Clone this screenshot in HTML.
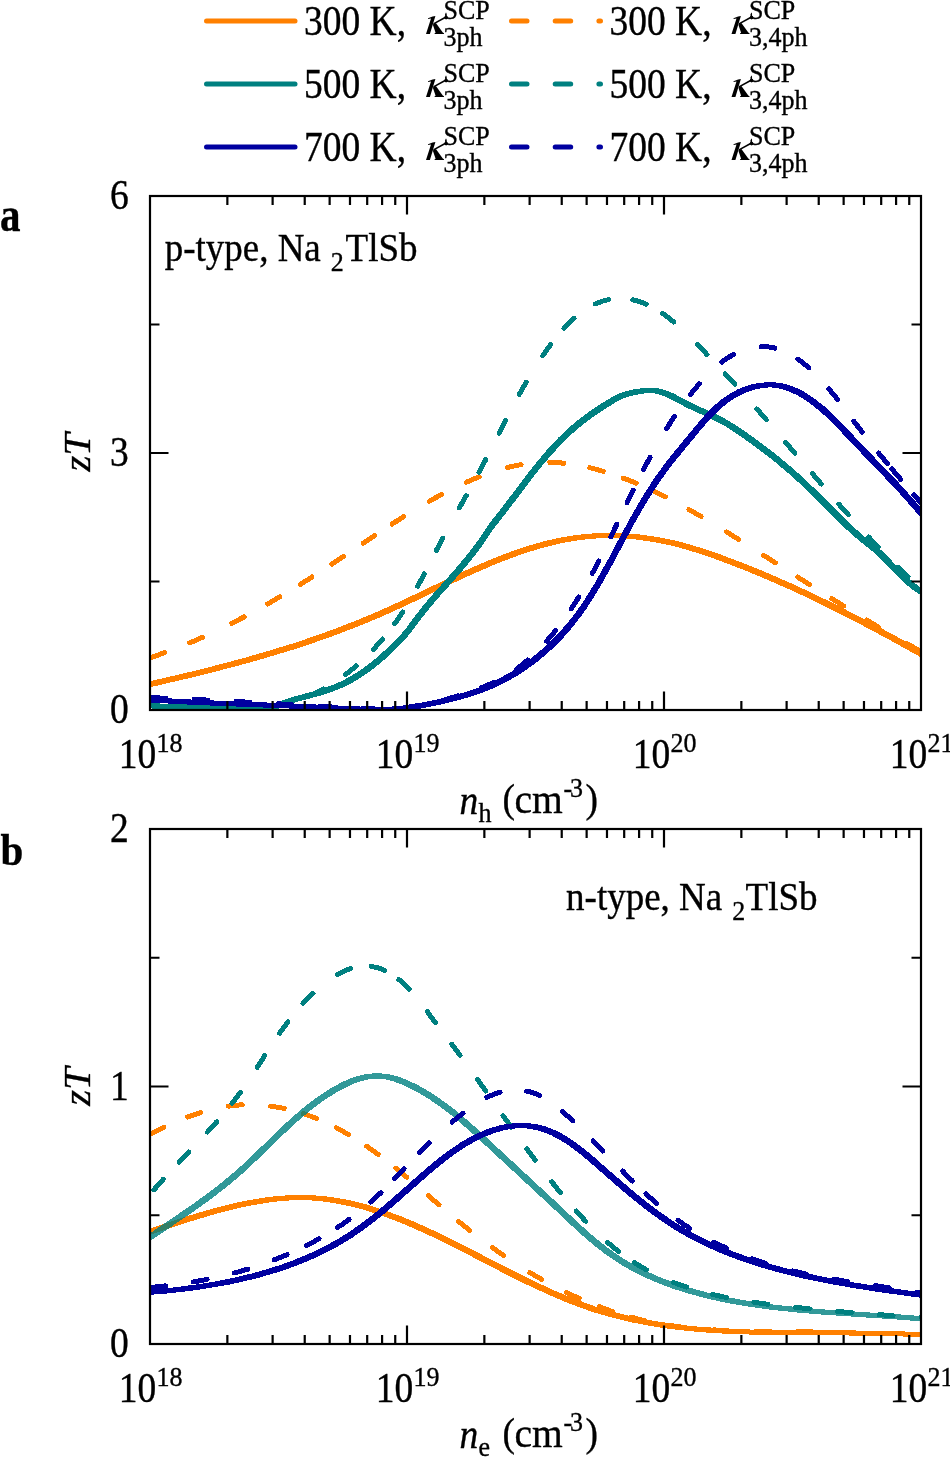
<!DOCTYPE html><html><head><meta charset="utf-8"><style>html,body{margin:0;padding:0;background:#fff;width:950px;height:1458px;overflow:hidden}text{stroke:#000;stroke-width:0.35px}</style></head><body><svg width="950" height="1458" viewBox="0 0 950 1458" font-family='"Liberation Serif", serif' style="position:absolute;left:0;top:0;will-change:transform">
<rect width="950" height="1458" fill="#fff"/>
<defs><g id="kap" fill="#000"><path d="M426.0 33.9L429.9 33.9L435.4 16.1L432.6 16.6L428.0 18.2L428.1 18.9L431.0 18.6Z"/><path d="M432.8 24.6L435.9 22.9L442.8 32.6L444.0 33.3L444.0 33.9L434.6 33.9L434.6 33.3L435.6 32.8Z"/><path d="M433.5 23.9L445.6 17.3" stroke="#000" stroke-width="1.6" fill="none"/><circle cx="446.1" cy="17.6" r="1.8"/><path d="M446.1 17.6L446.0 12.8" stroke="#000" stroke-width="0.9" fill="none"/></g></defs>
<path d="M206.5 21H295" stroke="#ff8000" stroke-width="5" stroke-linecap="round"/>
<path d="M511.5 21H600.5" stroke="#ff8000" stroke-width="5" stroke-linecap="round" stroke-dasharray="15.5 28.2"/>
<text transform="translate(304.00,34.80) scale(1,1.11)" font-size="37.5" text-anchor="start">300 K,</text>
<use href="#kap" transform="translate(0.00,0)"/>
<text transform="translate(443.50,18.80) scale(1,1.08)" font-size="26" text-anchor="start">SCP</text>
<text transform="translate(443.60,45.80) scale(1,1.08)" font-size="26" text-anchor="start">3ph</text>
<text transform="translate(609.50,34.80) scale(1,1.11)" font-size="37.5" text-anchor="start">300 K,</text>
<use href="#kap" transform="translate(305.50,0)"/>
<text transform="translate(749.00,18.80) scale(1,1.08)" font-size="26" text-anchor="start">SCP</text>
<text transform="translate(749.10,45.80) scale(1,1.08)" font-size="26" text-anchor="start">3,4ph</text>
<path d="M206.5 84H295" stroke="#008080" stroke-width="5" stroke-linecap="round"/>
<path d="M511.5 84H600.5" stroke="#008080" stroke-width="5" stroke-linecap="round" stroke-dasharray="15.5 28.2"/>
<text transform="translate(304.00,97.80) scale(1,1.11)" font-size="37.5" text-anchor="start">500 K,</text>
<use href="#kap" transform="translate(0.00,63)"/>
<text transform="translate(443.50,81.80) scale(1,1.08)" font-size="26" text-anchor="start">SCP</text>
<text transform="translate(443.60,108.80) scale(1,1.08)" font-size="26" text-anchor="start">3ph</text>
<text transform="translate(609.50,97.80) scale(1,1.11)" font-size="37.5" text-anchor="start">500 K,</text>
<use href="#kap" transform="translate(305.50,63)"/>
<text transform="translate(749.00,81.80) scale(1,1.08)" font-size="26" text-anchor="start">SCP</text>
<text transform="translate(749.10,108.80) scale(1,1.08)" font-size="26" text-anchor="start">3,4ph</text>
<path d="M206.5 147H295" stroke="#0000a0" stroke-width="5" stroke-linecap="round"/>
<path d="M511.5 147H600.5" stroke="#0000a0" stroke-width="5" stroke-linecap="round" stroke-dasharray="15.5 28.2"/>
<text transform="translate(304.00,160.80) scale(1,1.11)" font-size="37.5" text-anchor="start">700 K,</text>
<use href="#kap" transform="translate(0.00,126)"/>
<text transform="translate(443.50,144.80) scale(1,1.08)" font-size="26" text-anchor="start">SCP</text>
<text transform="translate(443.60,171.80) scale(1,1.08)" font-size="26" text-anchor="start">3ph</text>
<text transform="translate(609.50,160.80) scale(1,1.11)" font-size="37.5" text-anchor="start">700 K,</text>
<use href="#kap" transform="translate(305.50,126)"/>
<text transform="translate(749.00,144.80) scale(1,1.08)" font-size="26" text-anchor="start">SCP</text>
<text transform="translate(749.10,171.80) scale(1,1.08)" font-size="26" text-anchor="start">3,4ph</text>
<clipPath id="ca"><rect x="150.0" y="196.0" width="771.0" height="514.0"/></clipPath>
<clipPath id="cb"><rect x="150.0" y="829.0" width="771.0" height="515.0"/></clipPath>
<g clip-path="url(#ca)">
<path d="M147.8 682.3L193.8 671.5L209.8 667.5L241.8 659.1L265.8 652.2L290.8 644.6L301.8 641L319.8 634.8L332.8 630.1L355.8 621.2L372.8 614.2L388.8 607.1L403.8 600.2L451.8 577.3L466.8 570.4L489.8 560.4L497.8 557.2L512.8 551.5L522.8 548.1L535.8 544.1L545.8 541.4L556.8 538.9L564.8 537.3L572.8 536L585.8 534.4L594.8 533.8L611.8 533.4L625.8 533.8L636.8 534.6L641.8 535.2L658.8 537.7L673.8 540.8L682.8 543L698.8 547.7L709.8 551.2L721.8 555.5L747.8 565.4L765.8 572.8L792.8 584.6L815.8 595.3L835.8 605.1L862.8 618.9L895.8 636.6L923.9 652.2L923.9 656.2L919.8 656.2L891.8 640.6L858.8 622.9L830.8 608.6L804.8 596L788.8 588.6L761.8 576.8L743.8 569.4L717.8 559.5L705.8 555.2L694.8 551.7L678.8 547L669.8 544.8L654.8 541.7L637.8 539.2L632.8 538.6L621.8 537.8L609.8 537.5L598.8 537.8L589.8 538.4L576.8 540L568.8 541.3L560.8 542.9L549.8 545.4L539.8 548.1L526.8 552.1L516.8 555.5L501.8 561.2L493.8 564.4L470.8 574.4L455.8 581.3L407.8 604.2L392.8 611.1L376.8 618.2L359.8 625.2L336.8 634.1L323.8 638.8L305.8 645L294.8 648.6L269.8 656.2L245.8 663.1L218.8 670.2L186.8 678.2L156.8 685.2L151.8 686.3L147.8 686.3Z" fill="#ff8000" stroke="#ff8000" stroke-width="1" stroke-linejoin="round" shape-rendering="crispEdges"/>
<path d="M149.9 657.8L152.7 656.9L155.4 655.9L158.2 655.0L160.9 654.0L163.7 653.0L166.4 652.1L169.1 651.0L171.9 650.0L174.6 649.0L177.3 647.9L180.0 646.8L182.7 645.8L185.4 644.7L188.1 643.6L190.7 642.4L193.4 641.3L196.1 640.1L198.8 639.0L201.4 637.8L204.1 636.6L206.7 635.4L209.4 634.2L212.0 633.0L214.6 631.7L217.3 630.5L219.9 629.2L222.5 627.9L225.1 626.7L227.7 625.4L230.3 624.1L232.9 622.7L235.5 621.4L238.1 620.1L240.6 618.7L243.2 617.4L245.8 616.0L248.4 614.6L250.9 613.2L253.5 611.8L256.0 610.4L258.6 609.0L261.1 607.6L263.6 606.2L266.2 604.7L268.7 603.3L271.2 601.8L273.7 600.4L276.2 598.9L278.8 597.4L281.3 595.9L283.8 594.5L286.2 593.0L288.7 591.5L291.2 589.9L293.7 588.4L296.2 586.9L298.7 585.4L301.1 583.8L303.6 582.3L306.1 580.8L308.5 579.2L311.0 577.6L313.4 576.1L315.9 574.5L318.3 572.9L320.7 571.4L323.2 569.8L325.6 568.2L328.0 566.6L330.4 565.0L332.9 563.4L335.3 561.9L337.7 560.3L340.1 558.7L342.5 557.1L344.9 555.4L347.3 553.8L349.7 552.2L352.1 550.6L354.5 549.0L356.9 547.4L359.3 545.8L361.7 544.2L364.1 542.6L366.5 541.0L368.9 539.4L371.3 537.8L373.7 536.2L376.1 534.6L378.5 533.0L380.9 531.4L383.3 529.8L385.7 528.2L388.1 526.6L390.6 525.0L393.0 523.5L395.4 521.9L397.9 520.3L400.3 518.8L402.8 517.2L405.2 515.7L407.7 514.2L410.2 512.6L412.7 511.1L415.2 509.6L417.7 508.1L420.2 506.6L422.7 505.1L425.2 503.6L427.8 502.2L430.3 500.7L432.9 499.3L435.5 497.8L438.0 496.4L440.6 495.0L443.3 493.6L445.9 492.2L448.5 490.9L451.1 489.5L453.8 488.2L456.5 486.9L459.1 485.6L461.8 484.3L464.5 483.1L467.2 481.9L469.9 480.7L472.6 479.5L475.3 478.4L478.1 477.3L480.8 476.2L483.6 475.1L486.3 474.1L489.1 473.1L491.9 472.2L494.6 471.3L497.4 470.4L500.2 469.6L503.0 468.8L505.8 468.0L508.6 467.3L511.4 466.6L514.2 466.0L517.0 465.4L519.8 464.9L522.7 464.4L525.5 464.0L528.3 463.6L531.2 463.3L534.0 463.0L536.8 462.7L539.7 462.6L542.5 462.4L545.4 462.4L548.2 462.4L551.1 462.4L553.9 462.5L556.8 462.7L559.6 462.8L562.5 463.1L565.3 463.4L568.2 463.7L571.0 464.1L573.9 464.5L576.7 465.0L579.5 465.5L582.4 466.1L585.2 466.7L588.0 467.3L590.8 468.0L593.7 468.7L596.5 469.4L599.3 470.2L602.1 471.0L604.9 471.8L607.7 472.7L610.4 473.6L613.2 474.5L616.0 475.4L618.7 476.4L621.5 477.4L624.2 478.5L626.9 479.5L629.7 480.6L632.4 481.7L635.1 482.8L637.8 483.9L640.4 485.1L643.1 486.2L645.8 487.4L648.4 488.6L651.1 489.9L653.7 491.1L656.3 492.4L659.0 493.6L661.6 494.9L664.2 496.2L666.8 497.5L669.4 498.9L671.9 500.2L674.5 501.6L677.1 503.0L679.7 504.3L682.2 505.7L684.8 507.2L687.3 508.6L689.8 510.0L692.4 511.5L694.9 512.9L697.4 514.4L699.9 515.8L702.5 517.3L705.0 518.8L707.5 520.3L710.0 521.8L712.5 523.3L715.0 524.8L717.5 526.3L719.9 527.9L722.4 529.4L724.9 530.9L727.4 532.5L729.9 534.0L732.3 535.6L734.8 537.1L737.3 538.6L739.7 540.2L742.2 541.7L744.7 543.3L747.1 544.9L749.6 546.4L752.0 548.0L754.5 549.5L757.0 551.1L759.4 552.6L761.9 554.2L764.3 555.8L766.8 557.3L769.2 558.9L771.7 560.4L774.1 562.0L776.6 563.6L779.0 565.1L781.5 566.7L783.9 568.2L786.4 569.8L788.8 571.4L791.3 572.9L793.7 574.5L796.2 576.0L798.6 577.6L801.0 579.2L803.5 580.7L805.9 582.3L808.4 583.8L810.8 585.4L813.3 586.9L815.7 588.5L818.2 590.0L820.7 591.6L823.1 593.1L825.6 594.6L828.0 596.2L830.5 597.7L832.9 599.3L835.4 600.8L837.8 602.3L840.3 603.9L842.8 605.4L845.2 606.9L847.7 608.4L850.2 610.0L852.6 611.5L855.1 613.0L857.6 614.5L860.1 616.0L862.5 617.5L865.0 619.0L867.5 620.5L870.0 622.0L872.5 623.5L875.0 625.0L877.5 626.5L880.0 628.0L882.5 629.4L885.0 630.9L887.5 632.4L890.0 633.9L892.5 635.3L895.0 636.8L897.5 638.2L900.0 639.7L902.6 641.1L905.1 642.6L907.6 644.0L910.2 645.4L912.7 646.8L915.2 648.3L917.8 649.7L920.3 651.1L921.6 651.8" stroke="#ff8000" stroke-width="5" fill="none" stroke-linecap="round" stroke-linejoin="round" shape-rendering="crispEdges" stroke-dasharray="14.0 26.7 14.0 32.5 14.0 26.7 14.0 23.9 14.0 23.7 14.0 23.6 14.0 20.7 14.0 29.8 14.0 27.4 14.0 29.8 14.0 28.9 14.0 26.3 14.0 21.1 14.0 18.1 14.0 26.8 14.0 29.8 14.0 29.6 14.0 26.6 14.0 26.5 14.0 26.7 14.0 32.5 14.0 100000.0" stroke-dashoffset="-1.8"/>
<path d="M148 703.5L152 703.5L165 704.3L181 704.8L233 705.3L246 705.7L260 706.4L265 706.2L268 705.8L271 705.2L275 703.9L290 698.2L317 690.9L330 686.5L337 683.7L342 681.4L348 678.3L357 672.9L364 668.2L370 663.7L379 656.3L391 645.3L401 634.9L407 627.7L417 614.3L425 604.1L433 594.7L448 577.9L459 565.3L469 553.1L479 539.8L486 529.2L490 523.5L502 508.2L531 470L537 462.5L546 451.8L559 437.7L568 429.2L573 424.8L579 419.9L591 411L603 403.1L613 397L619 394.1L626 391.7L631 390.5L635 389.7L642 388.8L647 388.5L655 388.5L658 388.8L661 389.3L668 391.5L674 394.2L688 401.7L694 404.7L712 412.8L718 415.7L726 419.8L734 424.6L745 432L758 441.3L771 451.1L779 457.4L794 470.1L803 478.2L813 487.7L848 522.6L860 533.4L865 537.6L875 545.4L882 551.5L889 558.5L898 568.1L908 578L912 581.5L917 585.4L920 587.5L924 590L924 594L920 594L916 591.5L913 589.4L906 583.8L903 581.1L894 572.1L885 562.5L878 555.5L871 549.4L861 541.6L856 537.4L844 526.6L809 491.7L799 482.2L790 474.1L775 461.4L767 455.1L754 445.3L742 436.7L730 428.6L722 423.8L714 419.7L708 416.8L690 408.7L684 405.7L670 398.2L664 395.5L657 393.3L654 392.8L651 392.5L646 392.8L639 393.7L635 394.5L630 395.7L623 398.1L617 401L607 407.1L595 415L583 423.9L577 428.8L572 433.2L563 441.7L550 455.8L541 466.5L535 474L506 512.2L494 527.5L490 533.2L483 543.8L473 557.1L463 569.3L452 581.9L437 598.7L429 608.1L421 618.3L411 631.7L405 638.9L395 649.3L383 660.3L374 667.7L368 672.2L360 677.5L352 682.3L346 685.4L341 687.7L334 690.5L321 694.9L294 702.2L279 707.9L275 709.2L272 709.8L266 710.4L258 710.5L242 709.7L229 709.3L177 708.8L161 708.3L148 707.5Z" fill="#008080" stroke="#008080" stroke-width="1" stroke-linejoin="round" shape-rendering="crispEdges"/>
<path d="M150.1 706.9L153.6 706.9L157.2 706.9L160.8 707.0L164.5 707.0L168.1 707.1L171.8 707.2L175.4 707.4L179.1 707.5L182.8 707.7L186.5 707.8L190.2 708.0L194.0 708.1L197.7 708.3L201.4 708.5L205.2 708.6L208.9 708.7L212.7 708.8L216.4 708.9L220.2 709.0L223.9 709.0L227.7 709.1L231.4 709.1L235.2 709.0L238.9 708.9L242.6 708.8L246.3 708.7L250.0 708.5L253.7 708.2L257.4 707.9L261.1 707.5L264.7 707.1L268.4 706.7L272.0 706.1L275.6 705.5L279.2 704.9L282.7 704.1L286.3 703.3L289.8 702.4L293.3 701.4L296.7 700.4L300.2 699.2L303.6 698.0L307.0 696.7L310.3 695.3L313.6 693.8L316.9 692.2L320.2 690.6L323.4 688.9L326.6 687.1L329.8 685.2L332.9 683.3L336.0 681.3L339.1 679.2L342.1 677.1L345.1 674.9L348.0 672.6L351.0 670.3L353.8 667.9L356.7 665.5L359.5 663.0L362.3 660.5L365.0 657.9L367.7 655.3L370.3 652.6L372.9 649.9L375.5 647.1L378.0 644.3L380.5 641.5L382.9 638.7L385.3 635.8L387.6 632.8L389.9 629.9L392.2 626.9L394.4 623.9L396.6 620.9L398.7 617.8L400.7 614.8L402.7 611.7L404.7 608.6L406.7 605.5L408.6 602.3L410.4 599.2L412.2 596.0L414.1 592.9L415.8 589.7L417.6 586.5L419.3 583.3L421.0 580.1L422.7 576.8L424.4 573.6L426.1 570.4L427.8 567.1L429.4 563.9L431.1 560.6L432.8 557.4L434.5 554.1L436.1 550.8L437.8 547.6L439.5 544.3L441.3 541.0L443.0 537.8L444.7 534.5L446.5 531.2L448.3 528.0L450.1 524.7L451.9 521.4L453.7 518.2L455.5 514.9L457.3 511.6L459.1 508.4L460.9 505.1L462.8 501.8L464.6 498.6L466.4 495.3L468.2 492.0L470.0 488.8L471.8 485.5L473.6 482.3L475.4 479.0L477.2 475.7L478.9 472.5L480.7 469.2L482.4 466.0L484.1 462.7L485.8 459.4L487.5 456.2L489.2 452.9L490.8 449.7L492.5 446.4L494.1 443.2L495.7 439.9L497.4 436.7L499.0 433.5L500.6 430.2L502.3 427.0L503.9 423.7L505.5 420.5L507.2 417.3L508.9 414.0L510.5 410.8L512.2 407.6L513.9 404.4L515.6 401.1L517.3 397.9L519.1 394.7L520.9 391.5L522.7 388.3L524.5 385.1L526.3 381.9L528.2 378.7L530.1 375.5L532.1 372.3L534.0 369.1L536.0 365.9L538.1 362.8L540.2 359.6L542.3 356.4L544.5 353.2L546.7 350.1L549.0 346.9L551.3 343.8L552.5 342.2L554.9 339.2L556.1 337.6L558.5 334.6L561.0 331.6L563.6 328.7L566.2 325.9L568.9 323.2L571.6 320.5L574.4 318.0L577.2 315.6L580.1 313.3L583.0 311.1L586.0 309.1L589.0 307.2L592.1 305.5L595.3 303.9L598.5 302.6L601.7 301.4L605.1 300.4L608.5 299.7L611.9 299.1L615.3 298.8L618.8 298.6L622.3 298.7L625.8 298.9L629.3 299.3L632.8 299.9L636.2 300.7L639.6 301.7L643.0 302.9L646.3 304.3L649.5 305.8L652.8 307.4L656.0 309.2L659.1 311.2L662.2 313.2L665.3 315.4L668.3 317.6L671.3 320.0L674.3 322.4L677.2 325.0L680.1 327.5L682.9 330.2L685.8 332.9L688.5 335.6L691.3 338.3L694.0 341.1L696.8 343.9L699.4 346.6L702.1 349.4L704.7 352.1L707.3 354.9L709.9 357.6L712.5 360.3L715.0 363.0L717.5 365.6L720.1 368.3L722.6 371.0L725.0 373.6L727.5 376.3L730.0 379.0L732.4 381.6L734.9 384.3L737.3 387.0L739.7 389.7L742.2 392.4L744.6 395.1L747.0 397.8L749.4 400.6L751.9 403.3L754.3 406.0L756.7 408.8L759.1 411.5L761.5 414.3L763.9 417.1L766.3 419.8L768.7 422.6L771.1 425.4L773.5 428.2L775.9 431.0L778.3 433.8L780.7 436.6L783.1 439.4L785.5 442.2L787.9 445.0L790.3 447.8L792.7 450.6L795.1 453.4L797.5 456.2L799.9 459.0L802.2 461.8L804.6 464.7L807.1 467.5L809.5 470.3L811.9 473.1L814.3 475.9L816.7 478.7L819.1 481.5L821.5 484.3L823.9 487.1L826.4 489.9L828.8 492.7L831.2 495.5L833.7 498.3L836.1 501.1L838.5 503.9L841.0 506.6L843.5 509.4L845.9 512.2L848.4 514.9L850.9 517.7L853.3 520.4L855.8 523.2L858.3 525.9L860.8 528.6L863.3 531.4L865.8 534.1L868.4 536.8L870.9 539.5L873.4 542.1L876.0 544.8L878.5 547.5L881.1 550.1L883.7 552.8L886.3 555.4L888.8 558.0L891.5 560.6L894.1 563.2L896.7 565.8L899.3 568.4L902.0 571.0L904.6 573.5L907.3 576.1L909.9 578.6L912.6 581.1L915.3 583.6L918.0 586.1L920.8 588.5L922.1 589.8" stroke="#008080" stroke-width="5" fill="none" stroke-linecap="round" stroke-linejoin="round" shape-rendering="crispEdges" stroke-dasharray="14.0 28.0 14.0 28.0 14.0 28.0 14.0 18.6 14.0 26.6 14.0 23.5 14.0 19.7 14.0 29.8 14.0 26.3 14.0 34.5 14.0 26.8 14.0 29.8 14.0 29.8 14.0 31.1 14.0 20.9 14.0 25.7 14.0 24.5 14.0 19.0 14.0 32.5 14.0 26.7 14.0 33.3 14.0 30.2 14.0 26.6 14.0 26.8 14.0 30.3 14.0 28.0 14.0 100000.0" stroke-dashoffset="-3.7"/>
<path d="M148 698L152 698L201 700.5L298 704.2L366 707.3L378 707.5L391 707.1L404 706L417 704L426 702.3L435 700.4L451 696.6L464 693L476 689L483 686.4L489 683.8L500 678.6L512 671.9L520 666.8L530 659.7L538 653.3L547 645.4L557 635.6L568 623.1L574 615.5L581 605.8L585 599.8L595 583.7L609 558.7L623 532.2L631 517.5L641 500L649 487.2L656 476.6L666 462.8L672 455.2L698 423.7L705 415.7L711 409.4L717 403.8L724 398.1L732 392.9L738 389.8L747 386.2L753 384.6L760 383.3L767 382.8L776 383L783 384L788 385.3L791 386.3L797 388.7L800 390.1L806 393.4L814 398.8L824 406.7L831 413L839 420.9L867 450.4L899 483.7L910 495.9L924.1 512L924.1 516L920 516L906 499.9L895 487.7L863 454.4L835 424.9L827 417L820 410.7L810 402.8L802 397.4L796 394.1L790 391.4L784 389.3L778 387.8L773 387.1L770 386.8L764 387.3L757 388.6L752 389.9L748 391.3L739 395.2L733 398.7L728 402.1L720 408.7L716 412.4L711 417.5L702 427.7L676 459.2L670 466.8L664 475L657 485L645 504L634 523.3L608 571.9L599 587.7L594 596L586 608.4L581 615.4L573 625.9L568 631.8L561 639.6L552 648.5L547 653L539 659.8L534 663.7L524 670.8L515 676.5L502 683.6L496 686.5L487 690.4L480 693L468 697L455 700.6L439 704.4L430 706.3L421 708L408 710L395 711.1L382 711.5L362 711.3L294 708.2L197 704.5L148 702Z" fill="#0000a0" stroke="#0000a0" stroke-width="1" stroke-linejoin="round" shape-rendering="crispEdges"/>
<path d="M150.0 697.5L153.4 697.7L156.8 697.8L160.2 698.0L163.6 698.1L167.0 698.2L170.4 698.4L173.8 698.5L177.2 698.7L180.7 698.8L184.1 699.0L187.5 699.1L190.9 699.3L194.3 699.4L197.7 699.6L201.1 699.8L204.5 699.9L207.9 700.1L211.3 700.3L214.7 700.4L218.1 700.6L221.5 700.8L224.9 700.9L228.3 701.1L231.7 701.3L235.1 701.5L238.5 701.6L241.9 701.8L245.3 702.0L248.7 702.2L252.1 702.4L255.5 702.5L258.9 702.7L262.3 702.9L265.7 703.1L269.1 703.3L272.5 703.5L275.9 703.7L279.3 703.9L282.7 704.1L286.1 704.3L289.5 704.5L292.9 704.6L296.4 704.8L299.8 705.0L303.2 705.2L306.6 705.4L310.0 705.6L313.4 705.8L316.8 706.1L320.2 706.3L323.6 706.5L327.0 706.7L330.4 706.9L333.8 707.1L337.2 707.3L340.6 707.5L344.1 707.7L347.5 707.9L350.9 708.1L354.3 708.3L357.7 708.4L361.1 708.6L364.5 708.7L367.9 708.8L371.3 708.9L374.7 709.0L378.1 709.0L381.5 709.0L384.9 708.9L388.2 708.8L391.6 708.6L395.0 708.4L398.4 708.2L401.7 707.9L405.1 707.5L408.4 707.1L411.8 706.6L415.1 706.1L418.4 705.5L421.8 704.9L425.1 704.2L428.4 703.5L431.7 702.7L435.1 702.0L438.4 701.2L441.7 700.3L445.1 699.5L448.4 698.6L451.7 697.7L455.1 696.7L458.4 695.8L461.7 694.7L465.0 693.7L468.3 692.6L471.5 691.5L474.8 690.3L478.0 689.1L481.2 687.9L484.4 686.6L487.5 685.2L490.7 683.8L493.7 682.4L496.8 680.9L499.8 679.3L502.8 677.7L505.7 676.0L508.6 674.2L511.5 672.4L514.2 670.5L517.0 668.6L519.7 666.6L522.4 664.5L525.0 662.4L527.5 660.2L530.1 658.0L532.6 655.7L535.0 653.3L537.4 651.0L539.8 648.5L542.1 646.1L544.4 643.6L546.7 641.1L548.9 638.5L551.1 635.9L553.3 633.3L555.4 630.7L557.5 628.0L559.6 625.3L561.6 622.6L563.6 619.8L565.6 617.1L567.5 614.3L569.4 611.4L571.3 608.6L573.2 605.8L575.1 602.9L576.9 600.0L578.7 597.1L580.5 594.2L582.2 591.2L583.9 588.3L585.7 585.3L587.4 582.3L589.0 579.3L590.7 576.3L592.3 573.3L594.0 570.2L595.6 567.2L597.2 564.2L598.7 561.1L600.3 558.1L601.9 555.0L603.4 551.9L604.9 548.8L606.5 545.8L608.0 542.7L609.5 539.6L611.0 536.5L612.5 533.4L613.9 530.4L615.4 527.3L616.9 524.2L618.4 521.1L619.8 518.1L621.3 515.0L622.8 511.9L624.2 508.9L625.7 505.8L627.1 502.7L628.6 499.7L630.1 496.6L631.5 493.6L633.0 490.6L634.5 487.5L636.0 484.5L637.5 481.5L639.0 478.5L640.5 475.4L642.1 472.4L643.6 469.4L645.1 466.4L646.7 463.5L648.3 460.5L649.9 457.5L651.5 454.6L653.1 451.6L654.8 448.6L656.4 445.7L658.1 442.8L659.8 439.9L661.5 436.9L663.3 434.0L665.0 431.2L666.8 428.3L668.6 425.4L670.5 422.5L672.3 419.7L674.2 416.8L676.1 414.0L678.1 411.2L680.1 408.4L682.1 405.6L684.1 402.8L686.2 400.0L688.3 397.3L690.5 394.5L692.6 391.8L694.9 389.1L697.1 386.4L699.4 383.7L701.7 381.0L704.1 378.4L706.5 375.8L709.0 373.3L711.5 370.9L714.0 368.5L716.7 366.2L719.3 364.0L722.0 361.9L724.8 359.9L727.6 358.0L730.5 356.2L733.5 354.5L736.5 353.0L739.5 351.6L742.6 350.4L745.8 349.3L749.0 348.4L752.2 347.7L755.4 347.1L758.7 346.7L761.9 346.6L765.1 346.6L768.2 346.9L771.4 347.3L774.5 348.0L777.6 348.8L780.6 349.8L783.6 351.0L786.6 352.4L789.5 353.9L792.4 355.5L795.3 357.3L798.1 359.3L800.9 361.3L803.6 363.4L806.3 365.7L809.0 368.0L811.6 370.4L814.2 372.9L816.8 375.5L819.3 378.1L821.7 380.7L824.1 383.4L826.5 386.2L828.8 388.9L831.1 391.6L833.4 394.4L835.6 397.1L837.7 399.8L839.8 402.6L841.9 405.3L844.0 408.0L846.0 410.7L848.1 413.4L850.1 416.1L852.1 418.8L854.1 421.5L856.1 424.1L858.1 426.8L860.2 429.5L862.2 432.2L864.3 434.8L866.3 437.5L868.4 440.1L870.5 442.8L872.6 445.4L874.7 448.0L876.8 450.7L878.9 453.3L881.1 455.9L883.2 458.6L885.4 461.2L887.6 463.8L889.7 466.4L891.9 469.0L894.1 471.6L896.3 474.2L898.5 476.8L900.7 479.4L902.9 482.0L905.2 484.6L907.4 487.2L909.6 489.8L911.9 492.4L914.1 495.0L916.4 497.6L918.6 500.2L920.9 502.7L922.0 504.0" stroke="#0000a0" stroke-width="5" fill="none" stroke-linecap="round" stroke-linejoin="round" shape-rendering="crispEdges" stroke-dasharray="14.0 28.0 14.0 28.0 14.0 28.0 14.0 28.0 14.0 28.0 14.0 28.0 14.0 28.0 14.0 24.0 14.0 26.7 14.0 26.6 14.0 26.8 14.0 27.2 14.0 27.1 14.0 23.5 14.0 23.0 14.0 33.4 14.0 27.4 14.0 31.3 14.0 28.9 14.0 25.6 14.0 29.1 14.0 26.7 14.0 26.5 14.0 6.4 14.0 20.3 12.1 100000.0" stroke-dashoffset="-2.1"/>
</g>
<g clip-path="url(#cb)">
<path d="M148.3 1229.6L191.3 1215.4L209.3 1210.1L230.3 1204.6L240.3 1202.3L251.3 1200.2L267.3 1197.7L275.3 1196.7L286.3 1195.9L294.3 1195.6L306.3 1195.6L314.3 1195.9L322.3 1196.5L332.3 1197.7L348.3 1200.5L360.3 1203.3L367.3 1205.2L373.3 1207L383.3 1210.3L403.3 1217.7L416.3 1223.2L438.3 1233.2L469.3 1248.7L506.3 1267.9L529.3 1279.4L554.3 1291L573.3 1299L586.3 1303.8L595.3 1307L603.3 1309.5L618.3 1313.7L636.3 1318L658.3 1322.1L671.3 1324L684.3 1325.7L701.3 1327.4L727.3 1329.1L745.3 1329.9L767.3 1330.4L850.3 1330.9L924 1332.4L924 1336.4L838.3 1334.8L763.3 1334.4L731.3 1333.5L712.3 1332.5L699.3 1331.5L680.3 1329.7L667.3 1328L654.3 1326.1L632.3 1322L614.3 1317.7L599.3 1313.5L591.3 1311L582.3 1307.8L569.3 1303L550.3 1295L525.3 1283.4L502.3 1271.9L465.3 1252.7L434.3 1237.2L412.3 1227.2L399.3 1221.7L379.3 1214.3L369.3 1211L363.3 1209.2L356.3 1207.3L344.3 1204.5L328.3 1201.7L318.3 1200.5L310.3 1199.9L298.3 1199.6L290.3 1199.9L279.3 1200.7L271.3 1201.7L255.3 1204.2L244.3 1206.3L234.3 1208.6L218.3 1212.7L195.3 1219.4L152.3 1233.6L148.3 1233.6Z" fill="#ff8000" stroke="#ff8000" stroke-width="1" stroke-linejoin="round" shape-rendering="crispEdges"/>
<path d="M150.2 1134.0L152.7 1132.8L155.1 1131.5L157.6 1130.3L160.1 1129.0L162.7 1127.8L165.2 1126.6L167.8 1125.4L170.3 1124.2L172.9 1123.1L175.5 1121.9L178.1 1120.8L180.8 1119.7L183.4 1118.7L186.0 1117.6L188.7 1116.6L191.4 1115.7L194.1 1114.7L196.8 1113.8L199.5 1112.9L202.2 1112.1L204.9 1111.3L207.6 1110.5L210.4 1109.8L213.1 1109.1L215.9 1108.4L218.7 1107.9L221.4 1107.3L224.2 1106.8L227.0 1106.4L229.8 1106.0L232.6 1105.6L235.3 1105.3L238.1 1105.1L240.9 1104.9L243.8 1104.8L246.6 1104.7L249.4 1104.7L252.2 1104.7L255.0 1104.8L257.8 1104.9L260.6 1105.1L263.4 1105.3L266.2 1105.6L269.0 1105.9L271.7 1106.3L274.5 1106.7L277.3 1107.2L280.1 1107.7L282.8 1108.2L285.6 1108.8L288.3 1109.5L291.0 1110.1L293.7 1110.9L296.4 1111.6L299.1 1112.4L301.8 1113.2L304.4 1114.1L307.1 1115.0L309.7 1115.9L312.3 1116.9L314.9 1117.9L317.4 1118.9L320.0 1120.0L322.5 1121.1L325.0 1122.2L327.5 1123.4L330.0 1124.6L332.5 1125.8L334.9 1127.0L337.4 1128.3L339.8 1129.6L342.2 1131.0L344.6 1132.3L347.0 1133.7L349.4 1135.1L351.7 1136.5L354.1 1138.0L356.4 1139.4L358.7 1140.9L361.1 1142.4L363.4 1144.0L365.6 1145.5L367.9 1147.1L370.2 1148.7L372.5 1150.3L374.7 1151.9L377.0 1153.6L379.2 1155.2L381.4 1156.9L383.7 1158.6L385.9 1160.3L388.1 1162.0L390.3 1163.8L392.5 1165.5L394.7 1167.3L396.9 1169.0L399.0 1170.8L401.2 1172.6L403.4 1174.4L405.6 1176.2L407.7 1178.0L409.9 1179.8L412.0 1181.7L414.2 1183.5L416.4 1185.3L418.5 1187.2L420.7 1189.0L422.8 1190.9L425.0 1192.7L427.1 1194.6L429.3 1196.5L431.4 1198.3L433.6 1200.2L435.7 1202.0L437.9 1203.9L440.1 1205.7L442.2 1207.6L444.4 1209.4L446.5 1211.3L448.7 1213.1L450.9 1215.0L453.1 1216.8L455.3 1218.6L457.4 1220.5L459.6 1222.3L461.8 1224.1L464.0 1225.9L466.3 1227.7L468.5 1229.4L470.7 1231.2L472.9 1233.0L475.2 1234.7L477.4 1236.4L479.7 1238.2L481.9 1239.9L484.2 1241.6L486.5 1243.3L488.8 1245.0L491.0 1246.6L493.3 1248.3L495.6 1249.9L497.9 1251.6L500.3 1253.2L502.6 1254.8L504.9 1256.4L507.2 1258.0L509.6 1259.6L511.9 1261.1L514.3 1262.7L516.6 1264.2L519.0 1265.8L521.4 1267.3L523.8 1268.8L526.1 1270.2L528.5 1271.7L530.9 1273.2L533.3 1274.6L535.8 1276.0L538.2 1277.4L540.6 1278.8L543.0 1280.2L545.5 1281.6L547.9 1282.9L550.4 1284.2L552.8 1285.6L555.3 1286.9L557.8 1288.1L560.3 1289.4L562.7 1290.7L565.2 1291.9L567.7 1293.1L570.3 1294.3L572.8 1295.5L575.3 1296.7L577.8 1297.8L580.4 1298.9L582.9 1300.0L585.4 1301.1L588.0 1302.2L590.6 1303.3L593.1 1304.3L595.7 1305.3L598.3 1306.3L600.9 1307.3L603.5 1308.3L606.1 1309.2L608.7 1310.2L611.3 1311.1L613.9 1311.9L616.6 1312.8L619.2 1313.6L621.8 1314.5L624.5 1315.3L627.1 1316.1L629.8 1316.8L632.5 1317.5L635.2 1318.3L637.8 1319.0L640.5 1319.6L643.2 1320.3L645.9 1320.9L648.6 1321.5L651.4 1322.1L654.1 1322.7L656.8 1323.2L659.6 1323.7L662.3 1324.2L665.1 1324.7L667.8 1325.1L670.6 1325.6L673.4 1326.0L676.1 1326.4L678.9 1326.7L681.7 1327.1L684.5 1327.4L687.3 1327.7L690.1 1328.0L692.9 1328.3L695.7 1328.6L698.5 1328.8L701.3 1329.0L704.2 1329.2L707.0 1329.4L709.8 1329.6L712.7 1329.8L715.5 1330.0L718.3 1330.1L721.2 1330.2L724.0 1330.4L726.8 1330.5L729.7 1330.6L732.5 1330.7L735.4 1330.8L738.2 1330.8L741.1 1330.9L743.9 1331.0L746.7 1331.0L749.6 1331.1L752.4 1331.1L755.3 1331.1L758.1 1331.2L761.0 1331.2L763.8 1331.2L766.6 1331.3L769.5 1331.3L772.3 1331.3L775.1 1331.3L778.0 1331.3L780.8 1331.4L783.6 1331.4L786.4 1331.4L789.2 1331.4L792.1 1331.4L794.9 1331.5L797.7 1331.5L800.5 1331.5L803.3 1331.6L806.1 1331.6L808.8 1331.6L811.6 1331.7L814.4 1331.7L817.2 1331.8L819.9 1331.8L822.7 1331.9L825.5 1332.0L828.3 1332.0L831.0 1332.1L833.8 1332.2L836.5 1332.2L839.3 1332.3L842.1 1332.4L844.8 1332.4L847.6 1332.5L850.4 1332.6L853.1 1332.6L855.9 1332.7L858.7 1332.8L861.4 1332.8L864.2 1332.9L867.0 1333.0L869.7 1333.0L872.5 1333.1L875.3 1333.2L878.1 1333.2L880.9 1333.3L883.7 1333.3L886.5 1333.4L889.3 1333.4L892.1 1333.5L894.9 1333.5L897.7 1333.6L900.5 1333.6L903.4 1333.6L906.2 1333.6L909.1 1333.7L911.9 1333.7L914.8 1333.7L917.6 1333.7L920.5 1333.7L922.0 1333.7" stroke="#ff8000" stroke-width="5" fill="none" stroke-linecap="round" stroke-linejoin="round" shape-rendering="crispEdges" stroke-dasharray="14.0 25.7 14.0 28.4 14.0 28.2 14.0 19.6 14.0 21.9 14.0 21.9 14.0 22.4 14.0 28.6 14.0 25.8 14.0 28.5 14.0 31.1 14.0 27.8 14.0 22.0 14.0 19.2 14.0 28.0 14.0 28.0 14.0 28.0 14.0 28.0 14.0 28.0 14.0 28.0 14.0 100000.0" stroke-dashoffset="-1.3"/>
<path d="M148.1 1235.1L190.1 1206.6L205.1 1195.8L215.1 1188.3L222.1 1182.8L235.1 1171.9L242.1 1165.7L255.1 1153.4L281.1 1128.2L292.1 1118L302.1 1109.4L308.1 1104.5L316.1 1098.6L323.1 1093.7L331.1 1088.7L339.1 1084.2L347.1 1080.3L354.1 1077.6L362.1 1075.3L368.1 1074.3L373.1 1073.9L380.1 1073.9L383.1 1074.1L389.1 1074.9L397.1 1076.8L405.1 1079.7L411.1 1082.4L419.1 1086.3L427.1 1090.9L435.1 1095.9L447.1 1104.4L456.1 1111.3L463.1 1117.1L478.1 1130.3L554.1 1200.7L576.1 1221.4L588.1 1232.3L595.1 1238.2L602.1 1244L609.1 1249.4L614.1 1252.9L623.1 1258.9L631.1 1263.7L636.1 1266.4L642.1 1269.5L650.1 1273.4L661.1 1278.2L672.1 1282.4L678.1 1284.6L693.1 1289.2L710.1 1293.8L722.1 1296.6L739.1 1299.9L751.1 1301.9L775.1 1305.3L805.1 1308.4L827.1 1310.2L901.1 1315L923.9 1316.8L923.9 1320.8L918.1 1320.7L897.1 1319L823.1 1314.2L801.1 1312.4L771.1 1309.3L747.1 1305.9L735.1 1303.9L718.1 1300.6L706.1 1297.8L689.1 1293.2L674.1 1288.6L668.1 1286.4L657.1 1282.2L646.1 1277.4L638.1 1273.5L632.1 1270.4L627.1 1267.7L619.1 1262.9L610.1 1256.9L605.1 1253.4L598.1 1248L591.1 1242.2L584.1 1236.3L572.1 1225.4L550.1 1204.7L474.1 1134.3L459.1 1121.1L452.1 1115.3L443.1 1108.4L431.1 1099.9L423.1 1094.9L415.1 1090.3L407.1 1086.4L401.1 1083.7L393.1 1080.8L385.1 1078.9L379.1 1078.1L377.1 1078L374.1 1078.1L366.1 1079.3L358.1 1081.6L352.1 1083.9L343.1 1088.2L335.1 1092.7L328.1 1097.1L322.1 1101.1L312.1 1108.5L306.1 1113.4L296.1 1122L285.1 1132.2L259.1 1157.4L246.1 1169.7L239.1 1175.9L225.1 1187.6L209.1 1199.8L194.1 1210.6L152.1 1239.1L148.1 1239.1Z" fill="#008080" stroke="#008080" stroke-width="1" stroke-linejoin="round" shape-rendering="crispEdges" opacity="0.8"/>
<path d="M149.7 1194.6L151.9 1192.1L154.1 1189.6L156.3 1187.1L158.5 1184.5L160.8 1182.0L163.0 1179.5L165.3 1177.0L167.6 1174.5L169.9 1172.0L172.3 1169.5L174.6 1167.1L176.9 1164.6L179.3 1162.1L181.6 1159.6L184.0 1157.1L186.4 1154.6L188.7 1152.1L191.1 1149.6L193.5 1147.1L195.8 1144.6L198.2 1142.1L200.5 1139.6L202.9 1137.1L205.2 1134.5L207.5 1132.0L209.8 1129.5L212.1 1126.9L214.4 1124.3L216.7 1121.8L219.0 1119.2L221.2 1116.6L223.4 1113.9L225.6 1111.3L227.8 1108.7L229.9 1106.0L232.0 1103.3L234.1 1100.6L236.2 1097.9L238.2 1095.2L240.2 1092.5L242.2 1089.7L244.1 1086.9L246.1 1084.1L248.0 1081.3L249.9 1078.5L251.7 1075.7L253.6 1072.9L255.5 1070.0L257.3 1067.2L259.1 1064.3L261.0 1061.5L262.8 1058.6L264.6 1055.8L266.5 1052.9L268.3 1050.1L270.2 1047.2L272.1 1044.4L273.9 1041.5L275.8 1038.7L277.8 1035.9L279.7 1033.1L281.7 1030.3L283.6 1027.5L285.7 1024.8L287.7 1022.0L289.8 1019.3L291.9 1016.6L294.1 1013.9L296.3 1011.2L298.5 1008.6L300.8 1006.0L303.1 1003.4L305.5 1000.8L307.9 998.3L310.4 995.8L313.0 993.3L315.6 990.9L318.2 988.5L320.9 986.2L323.6 983.9L326.4 981.8L329.2 979.8L332.1 977.8L335.0 976.0L337.9 974.3L340.9 972.7L343.9 971.3L346.9 970.0L349.9 968.9L352.9 967.9L356.0 967.2L359.1 966.6L362.2 966.3L365.3 966.1L368.4 966.2L371.5 966.5L374.6 967.1L377.8 967.9L380.9 968.9L384.0 970.2L387.0 971.7L390.1 973.4L393.1 975.3L396.0 977.3L398.8 979.5L401.6 981.7L404.2 984.1L406.8 986.6L409.3 989.2L411.7 991.8L414.1 994.5L416.4 997.2L418.6 1000.0L420.8 1002.8L422.9 1005.7L425.0 1008.5L427.1 1011.4L429.2 1014.2L431.3 1017.1L433.3 1019.9L435.4 1022.6L437.5 1025.4L439.5 1028.1L441.6 1030.9L443.7 1033.6L445.7 1036.3L447.8 1039.0L449.8 1041.7L451.9 1044.4L453.9 1047.0L455.9 1049.7L458.0 1052.4L460.0 1055.2L462.0 1057.9L464.0 1060.6L466.0 1063.3L468.0 1066.1L469.9 1068.8L471.9 1071.5L473.9 1074.3L475.8 1077.0L477.8 1079.8L479.8 1082.5L481.7 1085.3L483.7 1088.1L485.6 1090.8L487.6 1093.6L489.5 1096.4L491.5 1099.1L493.4 1101.9L495.4 1104.7L497.3 1107.5L499.3 1110.2L501.3 1113.0L503.2 1115.8L505.2 1118.6L507.1 1121.4L509.1 1124.1L511.1 1126.9L513.0 1129.7L515.0 1132.5L517.0 1135.2L519.0 1138.0L521.0 1140.8L523.0 1143.6L525.0 1146.3L527.0 1149.1L529.0 1151.8L531.0 1154.6L533.1 1157.3L535.1 1160.1L537.2 1162.8L539.2 1165.6L541.3 1168.3L543.4 1171.0L545.5 1173.8L547.6 1176.5L549.7 1179.2L551.8 1181.9L554.0 1184.6L556.1 1187.3L558.3 1190.0L560.5 1192.7L562.7 1195.3L564.9 1198.0L567.1 1200.6L569.4 1203.3L571.7 1205.9L573.9 1208.5L576.2 1211.1L578.5 1213.6L580.9 1216.2L583.2 1218.7L585.6 1221.2L588.0 1223.7L590.4 1226.1L592.8 1228.6L595.3 1231.0L597.7 1233.3L600.2 1235.7L602.7 1238.0L605.3 1240.3L607.8 1242.5L610.4 1244.7L613.0 1246.9L615.6 1249.1L618.3 1251.2L621.0 1253.2L623.7 1255.2L626.4 1257.2L629.2 1259.1L631.9 1261.0L634.8 1262.9L637.6 1264.7L640.5 1266.4L643.4 1268.1L646.3 1269.7L649.2 1271.3L652.2 1272.9L655.2 1274.4L658.2 1275.8L661.3 1277.3L664.4 1278.6L667.5 1280.0L670.6 1281.2L673.7 1282.5L676.9 1283.7L680.1 1284.8L683.3 1286.0L686.5 1287.0L689.8 1288.1L693.0 1289.1L696.3 1290.1L699.6 1291.0L702.9 1291.9L706.2 1292.8L709.5 1293.7L712.9 1294.5L716.2 1295.3L719.6 1296.0L723.0 1296.8L726.4 1297.5L729.7 1298.1L733.2 1298.8L736.6 1299.4L740.0 1300.0L743.4 1300.6L746.8 1301.2L750.3 1301.7L753.7 1302.2L757.1 1302.7L760.6 1303.2L764.0 1303.7L767.4 1304.2L770.9 1304.6L774.3 1305.0L777.8 1305.4L781.2 1305.8L784.6 1306.2L788.1 1306.6L791.5 1307.0L794.9 1307.3L798.3 1307.7L801.7 1308.0L805.1 1308.4L808.5 1308.7L811.9 1309.0L815.2 1309.4L818.6 1309.7L822.0 1310.0L825.3 1310.3L828.7 1310.6L832.0 1310.9L835.4 1311.2L838.7 1311.5L842.1 1311.8L845.4 1312.1L848.8 1312.4L852.1 1312.6L855.5 1312.9L858.8 1313.2L862.2 1313.4L865.5 1313.7L868.9 1313.9L872.3 1314.2L875.7 1314.4L879.0 1314.7L882.4 1314.9L885.8 1315.1L889.2 1315.3L892.6 1315.6L896.1 1315.8L899.5 1316.0L903.0 1316.2L906.4 1316.4L909.9 1316.6L913.4 1316.8L916.9 1317.0L920.4 1317.2L922.2 1317.3" stroke="#008080" stroke-width="5" fill="none" stroke-linecap="round" stroke-linejoin="round" shape-rendering="crispEdges" stroke-dasharray="14.0 23.4 14.0 27.3 14.0 23.7 14.0 30.1 14.0 26.8 14.0 24.0 14.0 31.3 14.0 20.9 14.0 17.2 14.0 28.8 14.0 26.8 14.0 30.0 14.0 30.1 14.0 26.9 14.0 27.2 14.0 24.1 14.0 30.5 14.0 19.7 14.0 29.7 14.0 27.1 14.0 28.0 14.0 28.0 14.0 28.0 14.0 28.0 14.0 28.0 0.9 100000.0" stroke-dashoffset="-6.4"/>
<path d="M148.1 1290.2L171.1 1288.2L194.1 1285.3L205.1 1283.7L219.1 1281.2L236.1 1277.7L253.1 1273.7L270.1 1268.8L281.1 1265.2L292.1 1261.3L310.1 1253.8L321.1 1248.6L336.1 1240.6L348.1 1233.2L358.1 1226.3L367.1 1219.7L378.1 1210.9L389.1 1201.6L425.1 1170L437.1 1160L444.1 1154.5L451.1 1149.4L461.1 1142.7L468.1 1138.6L476.1 1134.4L486.1 1130.1L494.1 1127.4L501.1 1125.6L509.1 1124.2L517.1 1123.6L526.1 1123.6L530.1 1123.9L535.1 1124.5L541.1 1125.8L546.1 1127.2L551.1 1129L556.1 1131.2L563.1 1134.9L568.1 1137.9L575.1 1142.6L585.1 1150.2L594.1 1157.8L612.1 1173.6L630.1 1189.1L643.1 1199.8L659.1 1211.9L673.1 1221.6L683.1 1227.8L695.1 1234.6L702.1 1238.2L718.1 1245.7L731.1 1251.2L747.1 1257.1L753.1 1259.1L766.1 1263.2L777.1 1266.4L797.1 1271.6L823.1 1277.3L851.1 1282.5L880.1 1287.1L911.1 1291.5L923.7 1293.1L923.7 1297.1L918.1 1297L907.1 1295.5L876.1 1291.1L856.1 1288L828.1 1283.1L805.1 1278.4L785.1 1273.6L773.1 1270.4L757.1 1265.7L743.1 1261.1L727.1 1255.2L716.1 1250.6L699.1 1242.7L690.1 1238L678.1 1231.2L669.1 1225.6L659.1 1218.8L645.1 1208.4L634.1 1199.7L621.1 1188.9L592.1 1163.5L581.1 1154.2L571.1 1146.6L564.1 1141.9L559.1 1138.9L552.1 1135.2L547.1 1133L542.1 1131.2L537.1 1129.8L531.1 1128.5L526.1 1127.9L522.1 1127.6L515.1 1128L507.1 1129.1L501.1 1130.5L493.1 1133L485.1 1136.1L480.1 1138.4L472.1 1142.6L465.1 1146.7L455.1 1153.4L448.1 1158.5L441.1 1164L429.1 1174L393.1 1205.6L382.1 1214.9L371.1 1223.7L362.1 1230.3L352.1 1237.2L340.1 1244.6L330.1 1250.1L315.1 1257.4L307.1 1260.8L296.1 1265.3L285.1 1269.2L274.1 1272.8L257.1 1277.7L240.1 1281.7L229.1 1284.1L215.1 1286.6L192.1 1290.2L169.1 1292.8L152.1 1294.2L148.1 1294.2Z" fill="#0000a0" stroke="#0000a0" stroke-width="1" stroke-linejoin="round" shape-rendering="crispEdges"/>
<path d="M149.8 1287.4L152.8 1287.2L155.7 1286.9L158.7 1286.6L161.7 1286.3L164.7 1286.0L167.6 1285.7L170.6 1285.3L173.6 1285.0L176.6 1284.6L179.5 1284.1L182.5 1283.7L185.5 1283.3L188.4 1282.8L191.4 1282.3L194.4 1281.8L197.3 1281.3L200.3 1280.7L203.2 1280.2L206.2 1279.6L209.1 1279.0L212.1 1278.4L215.0 1277.7L217.9 1277.1L220.8 1276.4L223.8 1275.7L226.7 1275.0L229.6 1274.2L232.5 1273.5L235.4 1272.7L238.3 1271.9L241.2 1271.1L244.0 1270.2L246.9 1269.4L249.8 1268.5L252.6 1267.6L255.5 1266.6L258.3 1265.7L261.1 1264.7L264.0 1263.7L266.8 1262.7L269.6 1261.7L272.4 1260.6L275.2 1259.5L277.9 1258.4L280.7 1257.3L283.5 1256.2L286.2 1255.0L288.9 1253.8L291.7 1252.6L294.4 1251.4L297.1 1250.1L299.8 1248.8L302.4 1247.5L305.1 1246.2L307.8 1244.9L310.4 1243.5L313.0 1242.1L315.6 1240.7L318.2 1239.2L320.8 1237.8L323.4 1236.3L326.0 1234.8L328.5 1233.2L331.0 1231.7L333.5 1230.1L336.0 1228.5L338.5 1226.8L341.0 1225.2L343.5 1223.5L345.9 1221.8L348.3 1220.0L350.7 1218.3L353.1 1216.5L355.5 1214.7L357.8 1212.9L360.2 1211.0L362.5 1209.1L364.8 1207.2L367.1 1205.3L369.3 1203.3L371.6 1201.3L373.8 1199.3L376.0 1197.3L378.2 1195.2L380.4 1193.1L382.5 1191.0L384.6 1188.9L386.8 1186.8L388.9 1184.6L391.0 1182.4L393.1 1180.2L395.2 1178.1L397.2 1175.9L399.3 1173.6L401.4 1171.4L403.4 1169.2L405.5 1167.0L407.6 1164.8L409.6 1162.6L411.7 1160.4L413.8 1158.2L415.8 1156.1L417.9 1153.9L420.0 1151.7L422.1 1149.6L424.2 1147.5L426.3 1145.4L428.4 1143.3L430.6 1141.2L432.7 1139.2L434.9 1137.2L437.1 1135.2L439.3 1133.2L441.5 1131.2L443.7 1129.2L446.0 1127.3L448.3 1125.3L450.6 1123.3L452.9 1121.4L455.2 1119.5L457.6 1117.5L460.0 1115.6L462.4 1113.7L464.8 1111.7L467.3 1109.9L469.8 1108.0L472.3 1106.2L474.8 1104.5L477.4 1102.8L480.0 1101.2L482.6 1099.6L485.3 1098.2L488.0 1096.8L490.7 1095.6L493.5 1094.5L496.3 1093.5L499.1 1092.6L502.0 1091.9L504.8 1091.2L507.7 1090.8L510.6 1090.4L513.5 1090.2L516.4 1090.2L519.3 1090.3L522.2 1090.5L525.0 1090.9L527.8 1091.4L530.6 1092.1L533.4 1092.9L536.1 1093.9L538.7 1095.0L541.3 1096.3L543.9 1097.7L546.4 1099.2L548.9 1100.8L551.3 1102.5L553.7 1104.3L556.1 1106.2L558.5 1108.1L560.8 1110.1L563.1 1112.1L565.4 1114.2L567.7 1116.2L570.0 1118.3L572.2 1120.4L574.4 1122.5L576.6 1124.6L578.8 1126.8L581.0 1128.9L583.2 1131.0L585.4 1133.2L587.5 1135.3L589.7 1137.5L591.8 1139.6L594.0 1141.8L596.1 1143.9L598.2 1146.1L600.3 1148.3L602.4 1150.4L604.5 1152.6L606.6 1154.8L608.7 1156.9L610.8 1159.1L612.9 1161.2L615.0 1163.4L617.1 1165.5L619.2 1167.7L621.3 1169.8L623.4 1171.9L625.5 1174.1L627.6 1176.2L629.7 1178.3L631.9 1180.4L634.0 1182.5L636.1 1184.5L638.3 1186.6L640.4 1188.7L642.6 1190.7L644.7 1192.7L646.9 1194.7L649.1 1196.7L651.3 1198.7L653.5 1200.7L655.7 1202.6L658.0 1204.5L660.2 1206.4L662.5 1208.3L664.8 1210.2L667.1 1212.1L669.4 1213.9L671.8 1215.7L674.1 1217.5L676.5 1219.2L678.9 1221.0L681.4 1222.7L683.8 1224.4L686.3 1226.0L688.8 1227.6L691.3 1229.2L693.8 1230.8L696.4 1232.4L698.9 1233.9L701.5 1235.4L704.1 1236.9L706.8 1238.3L709.4 1239.8L712.1 1241.2L714.8 1242.6L717.5 1243.9L720.2 1245.2L722.9 1246.5L725.6 1247.8L728.4 1249.1L731.1 1250.3L733.9 1251.5L736.7 1252.7L739.5 1253.8L742.3 1255.0L745.1 1256.1L747.9 1257.1L750.8 1258.2L753.6 1259.2L756.5 1260.2L759.3 1261.2L762.2 1262.2L765.0 1263.1L767.9 1264.0L770.8 1264.9L773.7 1265.8L776.6 1266.6L779.4 1267.4L782.3 1268.2L785.2 1269.0L788.1 1269.8L791.0 1270.5L793.9 1271.2L796.8 1271.9L799.7 1272.6L802.6 1273.2L805.5 1273.9L808.4 1274.5L811.4 1275.1L814.3 1275.7L817.2 1276.3L820.1 1276.8L823.0 1277.4L826.0 1277.9L828.9 1278.4L831.8 1278.9L834.7 1279.4L837.7 1279.9L840.6 1280.4L843.6 1280.9L846.5 1281.4L849.4 1281.8L852.4 1282.3L855.3 1282.7L858.3 1283.2L861.2 1283.6L864.2 1284.1L867.1 1284.5L870.1 1284.9L873.0 1285.4L876.0 1285.8L879.0 1286.2L881.9 1286.7L884.9 1287.1L887.9 1287.6L890.8 1288.0L893.8 1288.4L896.8 1288.9L899.7 1289.3L902.7 1289.8L905.7 1290.3L908.7 1290.7L911.6 1291.2L914.6 1291.7L917.6 1292.2L920.6 1292.7L922.1 1293.0" stroke="#0000a0" stroke-width="5" fill="none" stroke-linecap="round" stroke-linejoin="round" shape-rendering="crispEdges" stroke-dasharray="14.0 28.0 14.0 28.0 14.0 27.9 14.0 21.7 14.0 21.7 14.0 27.8 14.0 19.2 14.0 22.1 14.0 30.9 14.0 28.8 14.0 26.7 14.0 27.8 14.0 28.7 14.0 28.1 14.0 18.7 14.0 27.5 14.0 28.0 14.0 28.0 14.0 28.0 14.0 28.0 14.0 28.0 14.0 28.0 5.4 100000.0" stroke-dashoffset="-1.9"/>
</g>
<rect x="150.0" y="196.0" width="771.0" height="514.0" fill="none" stroke="#000" stroke-width="2.2"/>
<path d="M227.36 710.0v-9M227.36 196.0v9M272.62 710.0v-9M272.62 196.0v9M304.73 710.0v-9M304.73 196.0v9M329.64 710.0v-9M329.64 196.0v9M349.98 710.0v-9M349.98 196.0v9M367.19 710.0v-9M367.19 196.0v9M382.09 710.0v-9M382.09 196.0v9M395.24 710.0v-9M395.24 196.0v9M407.00 710.0v-18.5M407.00 196.0v18.5M484.36 710.0v-9M484.36 196.0v9M529.62 710.0v-9M529.62 196.0v9M561.73 710.0v-9M561.73 196.0v9M586.64 710.0v-9M586.64 196.0v9M606.98 710.0v-9M606.98 196.0v9M624.19 710.0v-9M624.19 196.0v9M639.09 710.0v-9M639.09 196.0v9M652.24 710.0v-9M652.24 196.0v9M664.00 710.0v-18.5M664.00 196.0v18.5M741.36 710.0v-9M741.36 196.0v9M786.62 710.0v-9M786.62 196.0v9M818.73 710.0v-9M818.73 196.0v9M843.64 710.0v-9M843.64 196.0v9M863.98 710.0v-9M863.98 196.0v9M881.19 710.0v-9M881.19 196.0v9M896.09 710.0v-9M896.09 196.0v9M909.24 710.0v-9M909.24 196.0v9M150.0 581.50h9.5M921.0 581.50h-9.5M150.0 453.00h18.5M921.0 453.00h-18.5M150.0 324.50h9.5M921.0 324.50h-9.5" stroke="#000" stroke-width="2.2" fill="none"/>
<rect x="150.0" y="829.0" width="771.0" height="515.0" fill="none" stroke="#000" stroke-width="2.2"/>
<path d="M227.36 1344.0v-9M227.36 829.0v9M272.62 1344.0v-9M272.62 829.0v9M304.73 1344.0v-9M304.73 829.0v9M329.64 1344.0v-9M329.64 829.0v9M349.98 1344.0v-9M349.98 829.0v9M367.19 1344.0v-9M367.19 829.0v9M382.09 1344.0v-9M382.09 829.0v9M395.24 1344.0v-9M395.24 829.0v9M407.00 1344.0v-18.5M407.00 829.0v18.5M484.36 1344.0v-9M484.36 829.0v9M529.62 1344.0v-9M529.62 829.0v9M561.73 1344.0v-9M561.73 829.0v9M586.64 1344.0v-9M586.64 829.0v9M606.98 1344.0v-9M606.98 829.0v9M624.19 1344.0v-9M624.19 829.0v9M639.09 1344.0v-9M639.09 829.0v9M652.24 1344.0v-9M652.24 829.0v9M664.00 1344.0v-18.5M664.00 829.0v18.5M741.36 1344.0v-9M741.36 829.0v9M786.62 1344.0v-9M786.62 829.0v9M818.73 1344.0v-9M818.73 829.0v9M843.64 1344.0v-9M843.64 829.0v9M863.98 1344.0v-9M863.98 829.0v9M881.19 1344.0v-9M881.19 829.0v9M896.09 1344.0v-9M896.09 829.0v9M909.24 1344.0v-9M909.24 829.0v9M150.0 1215.25h9.5M921.0 1215.25h-9.5M150.0 1086.50h18.5M921.0 1086.50h-18.5M150.0 957.75h9.5M921.0 957.75h-9.5" stroke="#000" stroke-width="2.2" fill="none"/>
<text transform="translate(0.00,230.70) scale(1,1.2)" font-size="41" text-anchor="start" font-weight="bold">a</text>
<text transform="translate(0.50,865.00) scale(1,1.08)" font-size="41" text-anchor="start" font-weight="bold">b</text>
<text transform="translate(128.80,208.50) scale(1,1.11)" font-size="37.5" text-anchor="end">6</text>
<text transform="translate(128.80,465.50) scale(1,1.11)" font-size="37.5" text-anchor="end">3</text>
<text transform="translate(128.80,722.50) scale(1,1.11)" font-size="37.5" text-anchor="end">0</text>
<text transform="translate(128.80,841.50) scale(1,1.11)" font-size="37.5" text-anchor="end">2</text>
<text transform="translate(128.80,1099.80) scale(1,1.11)" font-size="37.5" text-anchor="end">1</text>
<text transform="translate(128.80,1356.50) scale(1,1.11)" font-size="37.5" text-anchor="end">0</text>
<text transform="translate(89.8,452.4) rotate(-90) scale(1.08,1)" font-size="37.5" text-anchor="middle" font-style="italic">zT</text>
<text transform="translate(89.8,1086.5) rotate(-90) scale(1.08,1)" font-size="37.5" text-anchor="middle" font-style="italic">zT</text>
<text transform="translate(118.80,768.00) scale(1,1.11)" font-size="37.5" text-anchor="start">10</text>
<text transform="translate(156.40,752.00) scale(1,1.08)" font-size="26" text-anchor="start">18</text>
<text transform="translate(375.80,768.00) scale(1,1.11)" font-size="37.5" text-anchor="start">10</text>
<text transform="translate(413.40,752.00) scale(1,1.08)" font-size="26" text-anchor="start">19</text>
<text transform="translate(632.80,768.00) scale(1,1.11)" font-size="37.5" text-anchor="start">10</text>
<text transform="translate(670.40,752.00) scale(1,1.08)" font-size="26" text-anchor="start">20</text>
<text transform="translate(889.80,768.00) scale(1,1.11)" font-size="37.5" text-anchor="start">10</text>
<text transform="translate(927.40,752.00) scale(1,1.08)" font-size="26" text-anchor="start">21</text>
<text transform="translate(118.80,1402.00) scale(1,1.11)" font-size="37.5" text-anchor="start">10</text>
<text transform="translate(156.40,1386.00) scale(1,1.08)" font-size="26" text-anchor="start">18</text>
<text transform="translate(375.80,1402.00) scale(1,1.11)" font-size="37.5" text-anchor="start">10</text>
<text transform="translate(413.40,1386.00) scale(1,1.08)" font-size="26" text-anchor="start">19</text>
<text transform="translate(632.80,1402.00) scale(1,1.11)" font-size="37.5" text-anchor="start">10</text>
<text transform="translate(670.40,1386.00) scale(1,1.08)" font-size="26" text-anchor="start">20</text>
<text transform="translate(889.80,1402.00) scale(1,1.11)" font-size="37.5" text-anchor="start">10</text>
<text transform="translate(927.40,1386.00) scale(1,1.08)" font-size="26" text-anchor="start">21</text>
<text transform="translate(459.50,813.50) scale(1,1.11)" font-size="37.5" text-anchor="start" font-style="italic">n</text>
<text transform="translate(478.50,822.00) scale(1,1.08)" font-size="26" text-anchor="start">h</text>
<text transform="translate(502.50,812.00) scale(1,1.08)" font-size="37.5" text-anchor="start">(</text>
<text transform="translate(514.50,812.70) scale(1,1.06)" font-size="39.5">cm</text>
<text transform="translate(563.50,797.00) scale(1,1.08)" font-size="26" text-anchor="start">-</text>
<text transform="translate(570.00,797.00) scale(1,1.08)" font-size="26" text-anchor="start">3</text>
<text transform="translate(585.50,812.00) scale(1,1.08)" font-size="37.5" text-anchor="start">)</text>
<text transform="translate(459.50,1447.50) scale(1,1.11)" font-size="37.5" text-anchor="start" font-style="italic">n</text>
<text transform="translate(478.50,1456.00) scale(1,1.08)" font-size="26" text-anchor="start">e</text>
<text transform="translate(502.50,1446.00) scale(1,1.08)" font-size="37.5" text-anchor="start">(</text>
<text transform="translate(514.50,1446.70) scale(1,1.06)" font-size="39.5">cm</text>
<text transform="translate(563.50,1431.00) scale(1,1.08)" font-size="26" text-anchor="start">-</text>
<text transform="translate(570.00,1431.00) scale(1,1.08)" font-size="26" text-anchor="start">3</text>
<text transform="translate(585.50,1446.00) scale(1,1.08)" font-size="37.5" text-anchor="start">)</text>
<text transform="translate(164.70,261.00) scale(1,1.07)" font-size="37" text-anchor="start">p-type, Na</text>
<text transform="translate(330.80,271.00) scale(1,1.08)" font-size="26" text-anchor="start">2</text>
<text transform="translate(345.60,261.00) scale(1,1.07)" font-size="37" text-anchor="start">TlSb</text>
<text transform="translate(566.10,910.00) scale(1,1.07)" font-size="37" text-anchor="start">n-type, Na</text>
<text transform="translate(732.20,920.00) scale(1,1.08)" font-size="26" text-anchor="start">2</text>
<text transform="translate(745.60,910.00) scale(1,1.07)" font-size="37" text-anchor="start">TlSb</text>
</svg></body></html>
